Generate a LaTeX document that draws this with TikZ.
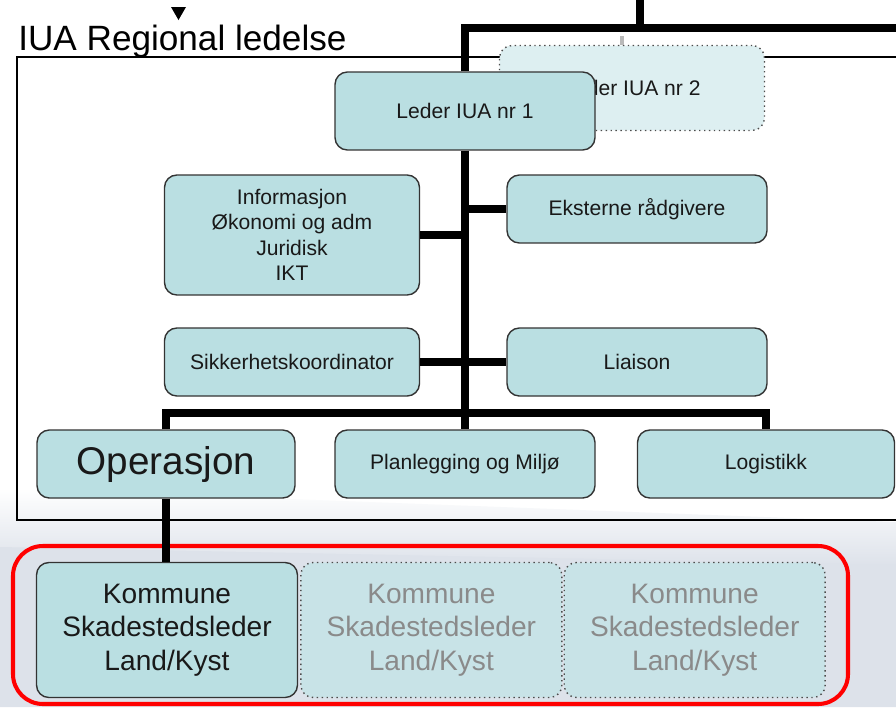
\documentclass[tikz,border=0pt]{standalone}
\usepackage{fontspec}
\setmainfont{Liberation Sans}
\usetikzlibrary{positioning,calc}
\definecolor{unitfill}{HTML}{BADFE2}
\definecolor{ghostfill}{HTML}{DDEFF1}
\definecolor{sparefill}{HTML}{C8E3E7}
\definecolor{bggray}{HTML}{DDE2EA}
\definecolor{ghosttext}{HTML}{8A8A8A}
\tikzset{
  unit/.style={draw=black!80,fill=unitfill,text=black!90,line width=0.8pt,rounded corners=7pt,align=center,inner sep=0pt,minimum width=5.2cm,minimum height=1.36cm,font=\fontsize{12}{14.4}\selectfont},
  ghost/.style={unit,draw=black!70,dotted,fill=ghostfill},
  kommune/.style={unit,minimum width=5.22cm,minimum height=2.7cm,font=\fontsize{16}{19.2}\selectfont},
  spare/.style={kommune,draw=black!70,dotted,fill=sparefill,text=ghosttext},
  trunk/.style={line width=4.5pt}
}
\begin{document}
\begin{tikzpicture}[x=0.02cm,y=-0.02cm]
\clip (0,0) rectangle (896,707);
\fill[white] (0,0) rectangle (896,707);
% background at the bottom
\shade[top color=white,bottom color=bggray] (0,488) -- (896,522) -- (896,566) -- (0,548) -- cycle;
\fill[bggray] (0,547) -- (896,565) -- (896,707) -- (0,707) -- cycle;

\draw[line width=0.8pt] (17,57) rectangle (910,520);
\node[anchor=base west,inner sep=0pt,font=\fontsize{20}{24}\selectfont] (title) at (18,50) {IUA Regional ledelse};
\fill (171,7) -- (186,7) -- (178.5,20) -- cycle;
\draw[red,line width=2.3pt,rounded corners=17pt] (13,546) rectangle (848,704);

\coordinate (feed) at (640,-5);
\coordinate (east) at (905,28);
\coordinate (stubtop) at (622,36);
\coordinate (busbar) at (465,413);

\node[ghost,minimum width=5.3cm,minimum height=1.7cm] (lederB) at (632,88) {Leder IUA nr 2};
\node[unit,minimum height=1.56cm] (lederA) at (465,111) {Leder IUA nr 1};
\node[unit,minimum width=5.1cm,minimum height=2.4cm] (stab) at (292,235) {Informasjon\\Økonomi og adm\\Juridisk\\IKT};
\node[unit] (ekstern) at (637,209) {Eksterne rådgivere};
\node[unit,minimum width=5.1cm] (sikkerhet) at (292,362) {Sikkerhetskoordinator};
\node[unit] (liaison) at (637,362) {Liaison};
\node[unit,minimum width=5.16cm,font=\fontsize{22}{26}\selectfont] (operasjon) at (166,464) {Operasjon};
\node[unit] (planlegging) at (465,464) {Planlegging og Miljø};
\node[unit,minimum width=5.14cm] (logistikk) at (766,464) {Logistikk};
\node[kommune] (kommuneA) at (167,630) {Kommune\\Skadestedsleder\\Land/Kyst};
\node[spare,right=0.04cm of kommuneA] (kommuneB) {Kommune\\Skadestedsleder\\Land/Kyst};
\node[spare,right=0.02cm of kommuneB] (kommuneC) {Kommune\\Skadestedsleder\\Land/Kyst};

\draw[trunk] (lederA.north) |- (east);
\draw[trunk] (feed) -- (feed |- east);
\draw[gray!55,line width=2.5pt] (lederB.north -| stubtop) -- (stubtop);
\draw[trunk] (lederA.south) -- (planlegging.north);
\draw[trunk] (stab.east) -- (stab.east -| lederA.south);
\draw[trunk] (ekstern.west) -- (ekstern.west -| lederA.south);
\draw[trunk] (sikkerhet.east) -- (liaison.west);
\draw[trunk] (operasjon.north) |- (busbar) -| (logistikk.north);
\draw[trunk] (operasjon.south) -- (operasjon.south |- kommuneA.north);
\end{tikzpicture}
\end{document}
